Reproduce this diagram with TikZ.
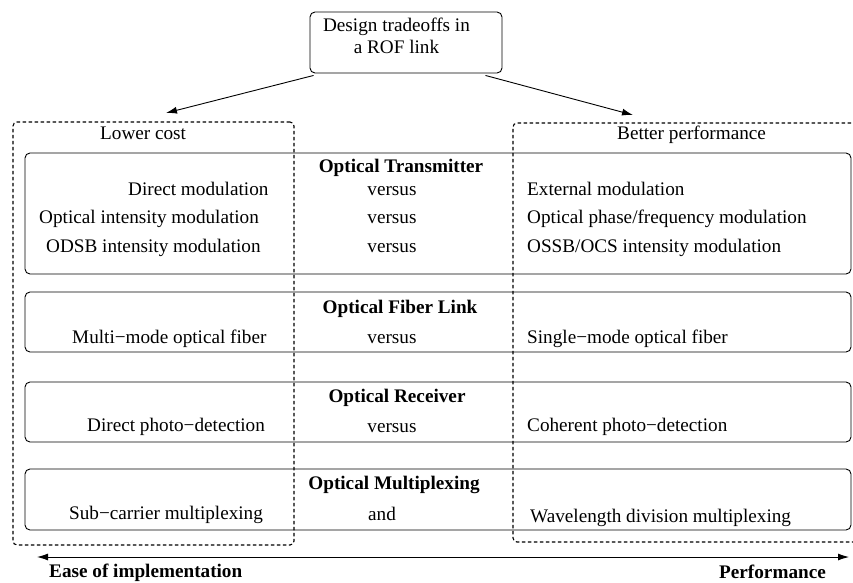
\documentclass[tikz,border=0pt]{standalone}
\usepackage{fontspec}
\setmainfont{Liberation Serif}
\usetikzlibrary{arrows.meta,calc}
\begin{document}
\begin{tikzpicture}[x=1pt,y=-1pt,
  every node/.style={font=\fontsize{19.2}{22}\selectfont, inner sep=0pt},
  panel/.style={draw=black, line width=0.9pt, rounded corners=5pt},
  side/.style={draw=black, line width=1.1pt, dash pattern=on 3.5pt off 2.5pt, rounded corners=4pt},
  head/.style={font=\fontsize{19.2}{22}\selectfont\bfseries, anchor=base},
  item/.style={anchor=base west},
  mid/.style={anchor=base},
  link/.style={draw=black, line width=0.9pt, -{Latex[length=11pt,width=7pt]}},
  span/.style={draw=black, line width=0.9pt, {Latex[length=11pt,width=7pt]}-{Latex[length=11pt,width=7pt]}}
]
\clip (0,0) rectangle (853,582);

% root box
\node[panel, minimum width=192pt, minimum height=61pt] (top) at (406,42.5) {};
\node[mid] (top1) at (396.5,31) {Design tradeoffs in};
\node[mid] (top2) at (396.5,53) {a ROF link};

% the two sides of the tradeoff
\node[side, minimum width=281pt, minimum height=423pt] (low) at (153.5,333.5) {};
\node[side, minimum width=420pt, minimum height=419pt] (high) at (723,332.5) {};
\node[item] (lowlbl) at (100,139) {Lower cost};
\node[item] (highlbl) at (617,139) {Better performance};

\coordinate (lowtip) at (166,113);
\coordinate (hightip) at (633,115);
\draw[link] ($(top.south west)+(4,2)$) -- (lowtip);
\draw[link] ($(top.south east)+(-17,2)$) -- (hightip);

% category panels
\node[panel, minimum width=826pt, minimum height=121pt] (tx) at (438,213.5) {};
\node[panel, minimum width=826pt, minimum height=60pt] (fib) at (438,322) {};
\node[panel, minimum width=826pt, minimum height=60pt] (rx) at (438,412) {};
\node[panel, minimum width=826pt, minimum height=61pt] (mux) at (438,499.5) {};

% optical transmitter
\node[head] (txh) at (401,172) {Optical Transmitter};
\node[item] (tx1l) at (128,195) {Direct modulation};
\node[mid] (tx1m) at (392,195) {versus};
\node[item] (tx1r) at (527,195) {External modulation};
\node[item] (tx2l) at (39,223) {Optical intensity modulation};
\node[mid] (tx2m) at (392,223) {versus};
\node[item] (tx2r) at (527,223) {Optical phase/frequency modulation};
\node[item] (tx3l) at (46,252) {ODSB intensity modulation};
\node[mid] (tx3m) at (392,252) {versus};
\node[item] (tx3r) at (527,252) {OSSB/OCS intensity modulation};

% optical fiber link
\node[head] (fibh) at (400,313) {Optical Fiber Link};
\node[item] (fibl) at (72,343) {Multi−mode optical fiber};
\node[mid] (fibm) at (392,343) {versus};
\node[item] (fibr) at (527,343) {Single−mode optical fiber};

% optical receiver
\node[head] (rxh) at (397,402) {Optical Receiver};
\node[item] (rxl) at (87,431) {Direct photo−detection};
\node[mid] (rxm) at (392,432) {versus};
\node[item] (rxr) at (527,431) {Coherent photo−detection};

% optical multiplexing
\node[head] (muxh) at (394,489) {Optical Multiplexing};
\node[item] (muxl) at (69,519) {Sub−carrier multiplexing};
\node[mid] (muxm) at (382,520) {and};
\node[item] (muxr) at (530,522) {Wavelength division multiplexing};

% bottom scale
\coordinate (easeend) at (37,557);
\coordinate (perfend) at (849,557);
\draw[span] (easeend) -- (perfend);
\node[font=\fontsize{19.2}{22}\selectfont\bfseries, anchor=base west] (ease) at (49,577) {Ease of implementation};
\node[font=\fontsize{19.2}{22}\selectfont\bfseries, anchor=base west] (perf) at (719,578) {Performance};
\end{tikzpicture}
\end{document}
